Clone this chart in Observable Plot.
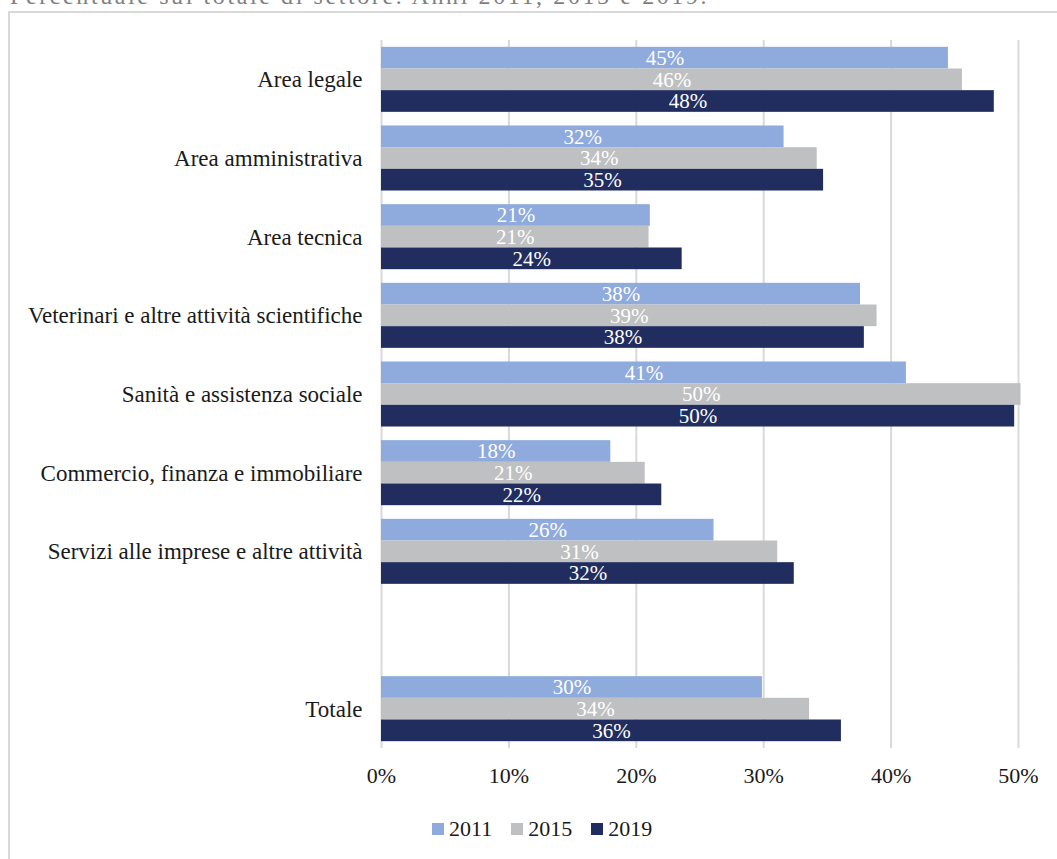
<!DOCTYPE html>
<html>
<head>
<meta charset="utf-8">
<script src="https://cdn.jsdelivr.net/npm/d3@7"></script>
<script src="https://cdn.jsdelivr.net/npm/@observablehq/plot@0.6"></script>
<style>
  html, body { margin: 0; padding: 0; background: #fff; }
  body { width: 1057px; height: 859px; position: relative; overflow: hidden; font-family: "Liberation Serif", serif; }
  #subtitle { position: absolute; left: 10px; top: -16px; font-size: 24px; line-height: 24px; letter-spacing: 2.6px; color: #7f7f7f; white-space: nowrap; }
  #box { position: absolute; left: 8px; top: 11px; width: 1200px; height: 1000px; border: 2px solid #d9d9d9; box-sizing: border-box; }
  #chart { position: absolute; left: 0; top: 0; }
  #chart g[aria-label^="fy-axis"] { font-size: 23px; }
  #legend { position: absolute; left: 432px; top: 818px; display: flex; align-items: center; font-size: 22px; line-height: 22px; color: #1a1a1a; }
  #legend .item { display: flex; align-items: center; margin-right: 19px; }
  #legend .sw { width: 12px; height: 12px; margin-right: 5px; }
</style>
</head>
<body>
<div id="subtitle">Percentuale sul totale di settore. Anni 2011, 2015 e 2019.</div>
<div id="box"></div>
<div id="chart"></div>
<div id="legend"></div>
<script>
// Categories (a blank spacer row sits between the sectors and the total)
const categories = [
  "Area legale",
  "Area amministrativa",
  "Area tecnica",
  "Veterinari e altre attività scientifiche",
  "Sanità e assistenza sociale",
  "Commercio, finanza e immobiliare",
  "Servizi alle imprese e altre attività",
  "Totale"
];
const spacer = " ";
const years = ["2011", "2015", "2019"];
const v2011 = [44.5, 31.6, 21.1, 37.6, 41.2, 18.0, 26.1, 29.9];
const v2015 = [45.6, 34.2, 21.0, 38.9, 50.2, 20.7, 31.1, 33.6];
const v2019 = [48.1, 34.7, 23.6, 37.9, 49.7, 22.0, 32.4, 36.1];
const xTicks = [0, 10, 20, 30, 40, 50];
const colors = ["#8faadc", "#bfc0c2", "#202d5e"];

const series = {"2011": v2011, "2015": v2015, "2019": v2019};
const rows = [];
categories.forEach((c, i) => {
  years.forEach(y => rows.push({category: c, year: y, value: series[y][i]}));
});
// placeholder row (no value) so the blank spacer band is kept as a facet
rows.push({category: spacer, year: years[0], value: null});
const fyDomain = [...categories.slice(0, 7), spacer, categories[7]];
const hasValue = d => d.value != null;

const chart = Plot.plot({
  width: 1057,
  height: 800,
  marginLeft: 381,
  marginRight: 39,
  marginTop: 40,
  marginBottom: 52,
  style: {fontFamily: "Liberation Serif, serif", fontSize: "22px", color: "#1a1a1a", background: "transparent", overflow: "visible"},
  facet: {data: rows, y: "category"},
  fy: {domain: fyDomain, padding: 0, round: false, label: null, axis: "left", tickSize: 0, tickPadding: 19},
  y: {domain: years, axis: null, paddingInner: 0, paddingOuter: 0.315, round: false},
  x: {domain: [0, 50], ticks: xTicks, tickFormat: d => d + "%", tickSize: 0, tickPadding: 19, label: null},
  color: {domain: years, range: colors},
  marks: [
    Plot.ruleX(xTicks, {stroke: "#d9d9d9", strokeWidth: 2}),
    Plot.barX(rows, {filter: hasValue, x: "value", y: "year", fill: "year"}),
    Plot.text(rows, {filter: hasValue, x: d => d.value / 2, y: "year", text: d => Math.round(d.value) + "%", fill: "white", fontSize: 21})
  ]
});
document.getElementById("chart").appendChild(chart);

const legend = document.getElementById("legend");
years.forEach((y, i) => {
  const item = document.createElement("div");
  item.className = "item";
  const sw = document.createElement("div");
  sw.className = "sw";
  sw.style.background = colors[i];
  const t = document.createElement("span");
  t.textContent = y;
  item.appendChild(sw);
  item.appendChild(t);
  legend.appendChild(item);
});
</script>
</body>
</html>
